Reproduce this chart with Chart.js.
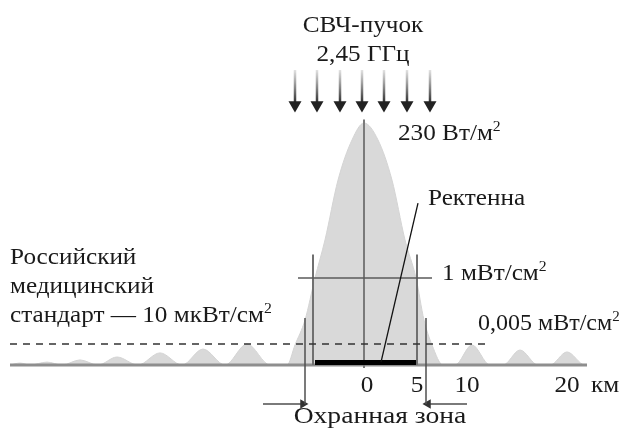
<!DOCTYPE html>
<html>
<head>
<meta charset="utf-8">
<script src="https://cdn.jsdelivr.net/npm/chart.js@4.4.1/dist/chart.umd.min.js"></script>
<style>
  body { margin: 0; background: #fff; }
  canvas { display: block; }
</style>
</head>
<body>
<canvas id="beamChart" width="624" height="436"></canvas>
<script>
// distance from the rectenna centre, km
const distanceKm = [-35.5, -34.5, -33.5, -31.8, -30.3, -28.5, -26.7, -24.8, -22.7, -20.5, -18.3, -16.2, -14.0, -11.8, -9.5,
    -7.8, -7.0, -6.0, -5.0, -4.0, -2.7, -1.3, -0.1, 1.3, 2.7, 4.0, 5.1, 5.9, 6.7, 7.8,
    9.0, 10.7, 12.5, 13.8, 15.5, 17.3, 18.5, 20.2, 22.0, 22.2];
// relative power density (peak = 100)
const powerDensity = [0, 0.8, 0, 1.2, 0, 2.1, 0, 3.3, 0, 5.0, 0, 6.6, 0, 8.7, 0,
    0, 8.3, 18.6, 36.0, 51.7, 76.4, 93.0, 100, 93.0, 76.4, 51.7, 36.0, 18.6, 8.3, 0,
    0, 8.3, 0, 0, 6.2, 0, 0, 5.4, 0, 0];

const tickValues = [0, 5, 10, 20];
const rectennaEdges = [-5.2, 5.2];
const rectennaHeight = 45.7;
const guardEdges = [-6.0, 6.1];
const guardTop = 19.4;
const guardBottom = -16.1;
const level1mW = 36.0;
const level1mWSpan = [-6.7, 6.7];
const level5uW = 8.7;
const level5uWSpan = [-35.5, 12.5];
const beamArrowsKm = [-7.0, -4.8, -2.5, -0.3, 1.9, 4.2, 6.5];
const beamArrowTop = 121.9;
const beamArrowTip = 107.4;

const xMin = -36.5, xMax = 25.9, yMin = -29.34, yMax = 150.83;

function seg(x1, y1, x2, y2) {
    return [{ x: x1, y: y1 }, { x: x2, y: y2 }];
}

function lineSet(data, color, width, extra) {
    return Object.assign({
        data: data,
        borderColor: color,
        borderWidth: width,
        pointRadius: 0,
        fill: false,
        tension: 0,
        order: 1,
    }, extra || {});
}

function arrowShade(c) {
    const chart = c.chart;
    const y = chart.scales.y;
    if (!chart.chartArea || !y) return '#333';
    const top = y.getPixelForValue(beamArrowTop);
    const tip = y.getPixelForValue(beamArrowTip);
    if (!isFinite(top) || !isFinite(tip)) return '#333';
    const g = chart.ctx.createLinearGradient(0, top, 0, tip);
    g.addColorStop(0, 'rgba(60,60,60,0.15)');
    g.addColorStop(1, 'rgba(30,30,30,1)');
    return g;
}

const datasets = [];

// beam profile
datasets.push({
    data: distanceKm.map((d, i) => ({ x: d, y: powerDensity[i] })),
    borderColor: '#d4d4d4',
    borderWidth: 1,
    backgroundColor: '#d9d9d9',
    fill: 'origin',
    pointRadius: 0,
    cubicInterpolationMode: 'monotone',
    order: 10,
});

// ground line
datasets.push(lineSet(seg(distanceKm[0], 0, distanceKm[distanceKm.length - 1], 0), '#8e8e8e', 3, { order: 5 }));
// centre line
datasets.push(lineSet(seg(-0.1, 101.5, -0.1, -1.2), '#7a7a7a', 2, { order: 4 }));
// rectenna edges
rectennaEdges.forEach(e => datasets.push(lineSet(seg(e, rectennaHeight, e, 0), '#707070', 2, { order: 4 })));
// 1 mW/cm2 level
datasets.push(lineSet(seg(level1mWSpan[0], level1mW, level1mWSpan[1], level1mW), '#5a5a5a', 1.5, { order: 3 }));
// 0.005 mW/cm2 level (dashed)
datasets.push(lineSet(seg(level5uWSpan[0], level5uW, level5uWSpan[1], level5uW), '#333', 1.5, { borderDash: [7, 6], order: 3 }));
// rectenna
datasets.push(lineSet(seg(-5.0, 1.0, 5.1, 1.0), '#000', 5, { order: 2, borderCapStyle: 'butt' }));
// leader line to "Ректенна"
datasets.push(lineSet(seg(5.3, 66.9, 1.6, 1.2), '#111', 1.3, { order: 1 }));
// guard zone
guardEdges.forEach(e => datasets.push(lineSet(seg(e, guardTop, e, guardBottom), '#505050', 1.5, { order: 3 })));
datasets.push(lineSet(seg(-10.2, guardBottom, -6.2, guardBottom), '#7a7a7a', 2, {
    pointRadius: [0, 3.5], pointStyle: 'triangle', pointRotation: 90,
    pointBackgroundColor: '#333', pointBorderColor: '#333', order: 3,
}));
datasets.push(lineSet(seg(10.2, guardBottom, 6.3, guardBottom), '#7a7a7a', 2, {
    pointRadius: [0, 3.5], pointStyle: 'triangle', pointRotation: -90,
    pointBackgroundColor: '#333', pointBorderColor: '#333', order: 3,
}));
// incoming beam arrows
beamArrowsKm.forEach(a => datasets.push(lineSet(seg(a, beamArrowTop, a, beamArrowTip), arrowShade, 2.5, {
    pointRadius: [0, 5], pointStyle: 'triangle', pointRotation: 180,
    pointBackgroundColor: '#222', pointBorderColor: '#222', order: 1,
})));

const FONT = '"Liberation Serif", "Times New Roman", serif';

// text with optional superscript, stretched horizontally like the scanned original
function txt(ctx, s, x, y, align, sup, stretch) {
    const k = stretch || 1.05;
    ctx.font = '24px ' + FONT;
    let w = ctx.measureText(s).width;
    let sw = 0;
    if (sup) {
        ctx.font = '15px ' + FONT;
        sw = ctx.measureText(sup).width;
    }
    let x0 = x;
    if (align === 'center') x0 = x - (w + sw) * k / 2;
    ctx.save();
    ctx.translate(x0, y);
    ctx.scale(k, 1);
    ctx.textAlign = 'left';
    ctx.font = '24px ' + FONT;
    ctx.fillText(s, 0, 0);
    if (sup) {
        ctx.font = '15px ' + FONT;
        ctx.fillText(sup, w, -9);
    }
    ctx.restore();
}

const labelsPlugin = {
    id: 'labels',
    afterDraw(chart) {
        const ctx = chart.ctx;
        const xs = chart.scales.x;
        ctx.save();
        ctx.fillStyle = '#1a1a1a';
        ctx.textBaseline = 'alphabetic';
        txt(ctx, 'СВЧ-пучок', 363, 32, 'center');
        txt(ctx, '2,45 ГГц', 363, 61, 'center');
        txt(ctx, '230 Вт/м', 398, 140, 'left', '2');
        txt(ctx, 'Ректенна', 428, 205, 'left');
        txt(ctx, '1 мВт/см', 442, 280, 'left', '2');
        txt(ctx, '0,005 мВт/см', 478, 330, 'left', '2', 1.0);
        txt(ctx, 'Российский', 10, 264, 'left');
        txt(ctx, 'медицинский', 10, 293, 'left');
        txt(ctx, 'стандарт — 10 мкВт/см', 10, 322, 'left', '2');
        tickValues.forEach(v => txt(ctx, String(v), xs.getPixelForValue(v) + 2, 392, 'center'));
        txt(ctx, 'км', 605, 392, 'center');
        txt(ctx, 'Охранная зона', 380, 423, 'center', null, 1.15);
        ctx.restore();
    }
};

const ctx = document.getElementById('beamChart').getContext('2d');
const beamChart = new Chart(ctx, {
    type: 'line',
    data: { datasets: datasets },
    options: {
        responsive: false,
        animation: false,
        layout: { padding: 0, autoPadding: false },
        plugins: { legend: { display: false }, tooltip: { enabled: false } },
        scales: {
            x: { type: 'linear', min: xMin, max: xMax, display: false },
            y: { type: 'linear', min: yMin, max: yMax, display: false },
        },
    },
    plugins: [labelsPlugin],
});
</script>
</body>
</html>
